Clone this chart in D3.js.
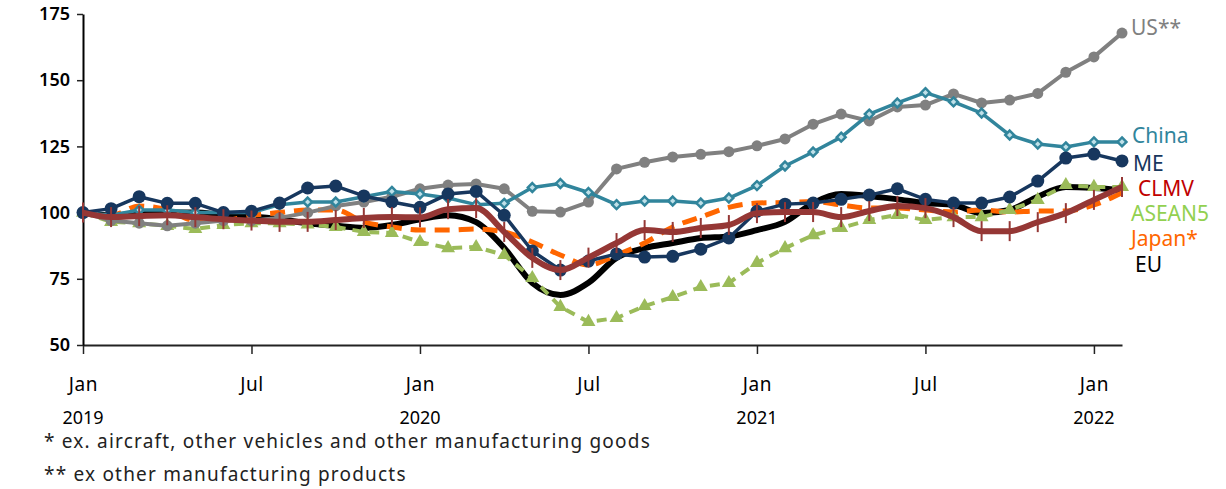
<!DOCTYPE html>
<html lang="en">
<head>
<meta charset="UTF-8">
<title>Export index by destination (Jan 2019 = 100)</title>
<script src="https://d3js.org/d3.v7.min.js"></script>
<style>
    body { margin: 0; background: #fff; font-family: "Noto Sans", "DejaVu Sans", sans-serif; }
    .tick text { font-family: "Noto Sans", sans-serif; }
</style>
</head>
<body>
<svg id="chart" width="1226" height="489"></svg>
<script>
// months from Jan 2019 to Feb 2022
const monthIdx = d3.range(38);
const xTickIdx = [0, 6, 12, 18, 24, 30, 36];
const xTickLabels = ["Jan", "Jul", "Jan", "Jul", "Jan", "Jul", "Jan"];
const yearIdx = [0, 12, 24, 36];
const yearLabels = ["2019", "2020", "2021", "2022"];
const yTicks = [50, 75, 100, 125, 150, 175];

const us = [100, 97, 96, 95, 96, 97, 97, 98, 100, 102.5, 104, 106,
    109, 110.4, 110.8, 109, 100.5, 100.2, 104, 116.5, 119, 121, 122, 123,
    125.2, 127.8, 133.4, 137.2, 134.6, 139.9, 140.6, 144.8, 141.4, 142.5, 145, 153, 158.8, 167.8];
const china = [100, 99, 101, 101, 100, 100, 100, 103, 104, 104, 106, 108,
    107, 105.5, 103, 103.5, 109.5, 111, 107.6, 103, 104.4, 104.4, 103.6, 105.5,
    110.2, 117.6, 122.9, 128.5, 137.2, 141.4, 145.3, 141.8, 137.6, 129.3, 125.9, 124.8, 126.7, 126.7];
const me = [100, 101.5, 106, 103.5, 103.5, 100, 100.5, 103.6, 109.3, 110, 106.3, 104,
    102, 107, 108, 99, 85.5, 78.3, 81.7, 84.4, 83.2, 83.5, 86.2, 90.4,
    100.5, 103.2, 103.6, 105, 106.6, 109, 105, 103.6, 103.6, 105.9, 111.9, 120.6, 122.1, 119.5];
const clmv = [100, 98.3, 98.7, 99, 98.3, 97.5, 97, 96.5, 96.5, 97.2, 98, 98.3,
    98.2, 101.3, 101.7, 92.7, 82.9, 78.3, 83, 88.5, 93.4, 92.7, 94.2, 95.3,
    99.8, 100.2, 100.2, 98.3, 100.6, 102.5, 101.7, 98.3, 93, 93, 96.4, 99.8, 104.8, 109.7];
const asean5 = [100, 96.5, 96, 95, 93.8, 95.3, 96, 96, 95.5, 94.6, 92.7, 92.3,
    88.9, 86.6, 87, 84, 75.3, 64.4, 58.7, 60.2, 64.7, 68.1, 71.9, 73.4,
    81, 86.6, 91.5, 94.2, 97.2, 99.1, 97.2, 98.3, 98.3, 101, 104.8, 110.4, 109.7, 109.7];
const japan = [100, 99, 102.5, 101, 97, 97, 99, 100, 101, 101, 96.5, 94.6,
    93.4, 93.4, 93.8, 92.7, 88.9, 84, 80.2, 84, 88.5, 94.6, 98.3, 102,
    103.6, 103.8, 104.2, 102.9, 101.7, 101.7, 101, 100.2, 101, 100.2, 100.6, 100.6, 102.9, 107.5];
const eu = [100, 99, 99.5, 100, 100, 99, 98.5, 97.5, 96, 95, 94.2, 95.3,
    97.5, 99, 96.4, 86.6, 73.4, 68.9, 73.5, 82.9, 86.6, 88.5, 90.4, 91,
    93.4, 96.5, 103.6, 107, 106.3, 105, 103.6, 102.9, 99.8, 101, 106, 109.7, 109.3, 108.5];

const footnotes = ["* ex. aircraft, other vehicles and other manufacturing goods",
    "** ex other manufacturing products"];

const svg = d3.select("#chart");

const x = d3.scaleLinear().domain([0, 37]).range([83, 1122]);
const y = d3.scaleLinear().domain([50, 175]).range([345, 14]);

// axes
const xAxis = svg.append("g")
    .attr("transform", "translate(0,345)")
    .call(d3.axisBottom(x).tickValues(xTickIdx).tickFormat((d, i) => xTickLabels[i]).tickSize(9).tickSizeOuter(0));
xAxis.select(".domain").attr("stroke", "#222").attr("stroke-width", 2);
xAxis.selectAll(".tick line").attr("stroke", "#222").attr("stroke-width", 1.5);
xAxis.selectAll(".tick text").attr("y", 46).attr("dy", 0).attr("font-size", 19)
    .attr("letter-spacing", 0.6).attr("fill", "#000");

svg.selectAll(".year").data(yearIdx).enter().append("text")
    .attr("x", d => x(d)).attr("y", 424)
    .attr("text-anchor", "middle").attr("font-size", 18)
    .text((d, i) => yearLabels[i]);

const yAxis = svg.append("g")
    .attr("transform", "translate(83,0)")
    .call(d3.axisLeft(y).tickValues(yTicks).tickSize(6).tickSizeOuter(0));
yAxis.select(".domain").attr("stroke", "#000").attr("stroke-width", 2);
yAxis.selectAll(".tick line").attr("stroke", "#222").attr("stroke-width", 1.5);
yAxis.selectAll(".tick text").attr("x", -13).attr("font-size", 18).attr("font-weight", 600).attr("fill", "#000");

// series, bottom to top
const series = [
    {name: "EU", data: eu, color: "#000000", width: 6, dash: null, curve: d3.curveMonotoneX, marker: null, label: "#000000", ly: 272, lx: 1135},
    {name: "Japan*", data: japan, color: "#FF6600", width: 5, dash: "15,9", curve: d3.curveMonotoneX, marker: null, label: "#FF6600", ly: 246, lx: 1131},
    {name: "ASEAN5", data: asean5, color: "#9BBB59", width: 4, dash: "10,7", curve: d3.curveLinear, marker: "tri", label: "#92D050", ly: 221, lx: 1131},
    {name: "US**", data: us, color: "#808080", width: 4, dash: null, curve: d3.curveLinear, marker: "circle", r: 5.5, label: "#808080", ly: 35, lx: 1131},
    {name: "China", data: china, color: "#31859C", width: 3.5, dash: null, curve: d3.curveLinear, marker: "diamond", label: "#31859C", ly: 143, lx: 1132},
    {name: "ME", data: me, color: "#17375E", width: 3.5, dash: null, curve: d3.curveLinear, marker: "circle", r: 6.5, label: "#17375E", ly: 171, lx: 1133},
    {name: "CLMV", data: clmv, color: "#953735", width: 6, dash: null, curve: d3.curveMonotoneX, marker: "plus", label: "#C00000", ly: 196, lx: 1138}
];

series.forEach(s => {
    const line = d3.line().x((d, i) => x(i)).y(d => y(d)).curve(s.curve);
    svg.append("path")
        .datum(s.data)
        .attr("fill", "none")
        .attr("stroke", s.color)
        .attr("stroke-width", s.width)
        .attr("stroke-linejoin", "round")
        .attr("stroke-dasharray", s.dash)
        .attr("d", line);

    const g = svg.append("g");
    if (s.marker === "circle") {
        g.selectAll("circle").data(s.data).enter().append("circle")
            .attr("cx", (d, i) => x(i)).attr("cy", d => y(d))
            .attr("r", s.r).attr("fill", s.color);
    } else if (s.marker === "diamond") {
        g.selectAll("path").data(s.data).enter().append("path")
            .attr("d", d3.symbol(d3.symbolDiamond2).size(50))
            .attr("transform", (d, i) => `translate(${x(i)},${y(d)})`)
            .attr("fill", "#bfe0e8").attr("stroke", s.color).attr("stroke-width", 2.5);
    } else if (s.marker === "tri") {
        g.selectAll("path").data(s.data).enter().append("path")
            .attr("d", d3.symbol(d3.symbolTriangle).size(85))
            .attr("transform", (d, i) => `translate(${x(i)},${y(d)})`)
            .attr("fill", s.color);
    } else if (s.marker === "plus") {
        g.selectAll("line").data(s.data).enter().append("line")
            .attr("x1", (d, i) => x(i)).attr("x2", (d, i) => x(i))
            .attr("y1", d => y(d) - 10).attr("y2", d => y(d) + 10)
            .attr("stroke", s.color).attr("stroke-width", 2);
    }

    svg.append("text")
        .attr("x", s.lx).attr("y", s.ly)
        .attr("font-size", 21)
        .attr("fill", s.label)
        .text(s.name);
});

svg.selectAll(".note").data(footnotes).enter().append("text")
    .attr("x", 44).attr("y", (d, i) => 448 + i * 33)
    .attr("font-size", 19).attr("letter-spacing", 1.2).attr("fill", "#222")
    .text(d => d);
</script>
</body>
</html>
